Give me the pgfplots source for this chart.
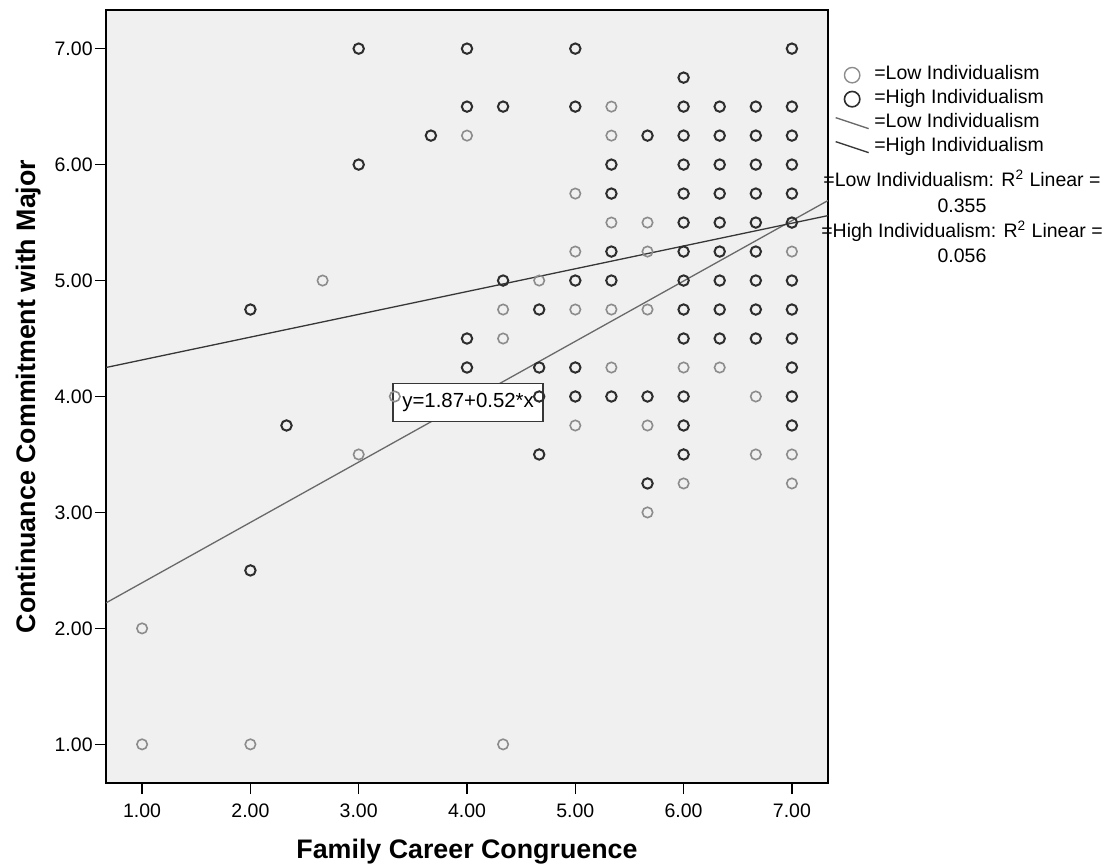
\documentclass[border=0pt]{standalone}
\usepackage{fontspec}
\setmainfont{Liberation Sans}
\usepackage{pgfplots}
\pgfplotsset{compat=1.18}
\definecolor{bgc}{RGB}{240,240,240}
\definecolor{lowc}{RGB}{140,140,140}
\definecolor{highc}{RGB}{45,45,45}
\definecolor{lowl}{RGB}{105,105,105}
\definecolor{highl}{RGB}{55,55,55}
\pgfplotsset{
  legmark/.style={legend image code/.code={\path (0pt,0pt) (19pt,0pt); \draw[##1, mark size=3.85pt, mark options={line width=#1}] plot coordinates {(8.25pt,0pt)};}},
  legline/.style={legend image code/.code={\path (0pt,0pt) (19pt,0pt); \draw[##1] (0pt,2.75pt) -- (16.5pt,-2.75pt);}},
}
\begin{document}
\begin{tikzpicture}
\path[use as bounding box] (0,0) rectangle (553.5pt,433.5pt);
\begin{axis}[
  at={(53pt,42pt)}, anchor=south west,
  scale only axis, width=361pt, height=386.5pt,
  xmin=0.6667, xmax=7.3333, ymin=0.6667, ymax=7.3333,
  axis background/.style={fill=bgc},
  axis line style={black, line width=0.75pt},
  xtick={1,2,3,4,5,6,7}, ytick={1,2,3,4,5,6,7},
  tick align=outside, major tick length=5.5pt,
  tick style={black, line width=0.75pt},
  xtick pos=left, ytick pos=left,
  minor tick num=0,
  /pgf/number format/fixed,
  /pgf/number format/fixed zerofill,
  /pgf/number format/precision=2,
  /pgf/number format/assume math mode=true,
  ticklabel style={font=\fontsize{9.75}{11}\selectfont, inner sep=0pt},
  yticklabel style={anchor=east, xshift=-1pt},
  xticklabel style={anchor=north, yshift=-4.5pt},
  every axis x label/.style={at={(axis description cs:0.5,-0.0983)}, anchor=base},
  every axis y label/.style={at={(axis description cs:-0.0983,0.5)}, rotate=90, anchor=base},
  label style={font=\fontsize{13.4}{15}\selectfont\bfseries},
  xlabel={Family Career Congruence},
  ylabel={Continuance Commitment with Major},
  legend style={at={(axis description cs:1.0097,0.9276)}, anchor=north west,
    draw=none, fill=none, inner sep=0pt, outer sep=0pt, row sep=2.8pt, column sep=0pt,
    font=\fontsize{9.75}{11}\selectfont,
    nodes={inner sep=0pt, text height=7pt, text depth=2.2pt}},
  legend cell align=left,
  clip=true,
]
\addplot[only marks, mark=o, color=lowc, mark size=2.6pt, mark options={line width=0.8pt}, legmark=0.7pt]
coordinates {
(1,2) (1,1) (2,1) (2.6667,5) (3,3.5) (3.3333,4) (4,6.25) (4.3333,4.75) (4.3333,4.5) (4.3333,1)
(4.6667,5) (5,5.75) (5,5.25) (5,4.75) (5,3.75)
(5.3333,6.5) (5.3333,6.25) (5.3333,5.5) (5.3333,4.75) (5.3333,4.25)
(5.6667,5.5) (5.6667,5.25) (5.6667,4.75) (5.6667,3.75) (5.6667,3)
(6,4.25) (6,3.25) (6.3333,4.25) (6.6667,4) (6.6667,3.5)
(7,5.25) (7,3.5) (7,3.25)
};
\addlegendentry{=Low Individualism}
\addplot[only marks, mark=o, color=highc, mark size=2.6pt, mark options={line width=1pt}, legmark=0.8pt]
coordinates {
(2,4.75) (2,2.5) (2.3333,3.75) (3,7) (3,6) (3.6667,6.25)
(4,7) (4,6.5) (4,4.5) (4,4.25)
(4.3333,6.5) (4.3333,5)
(4.6667,4.75) (4.6667,4.25) (4.6667,4) (4.6667,3.5)
(5,7) (5,6.5) (5,5) (5,4.25) (5,4)
(5.3333,6) (5.3333,5.75) (5.3333,5.25) (5.3333,5) (5.3333,4)
(5.6667,6.25) (5.6667,4) (5.6667,3.25)
(6,6.75) (6,6.5) (6,6.25) (6,6) (6,5.75) (6,5.5) (6,5.25) (6,5) (6,4.75) (6,4.5) (6,4) (6,3.75) (6,3.5)
(6.3333,6.5) (6.3333,6.25) (6.3333,6) (6.3333,5.75) (6.3333,5.5) (6.3333,5.25) (6.3333,5) (6.3333,4.75) (6.3333,4.5)
(6.6667,6.5) (6.6667,6.25) (6.6667,6) (6.6667,5.75) (6.6667,5.5) (6.6667,5.25) (6.6667,5) (6.6667,4.75) (6.6667,4.5)
(7,7) (7,6.5) (7,6.25) (7,6) (7,5.75) (7,5.5) (7,5) (7,4.75) (7,4.5) (7,4.25) (7,4) (7,3.75)
};
\addlegendentry{=High Individualism}
\addplot[color=lowl, line width=0.65pt, legline]
coordinates {(0.6667,2.22) (7.3333,5.69)};
\addlegendentry{=Low Individualism}
\addplot[color=highl, line width=0.65pt, legline]
coordinates {(0.6667,4.25) (7.3333,5.56)};
\addlegendentry{=High Individualism}
\node[draw=highl, line width=0.6pt, fill=white, minimum width=75pt, minimum height=19pt, inner sep=0pt,
  font=\fontsize{10.2}{12}\selectfont] at (axis cs:4.01,3.946) {y=1.87+0.52*x};
\end{axis}
\begin{scope}[font=\fontsize{9.75}{11}\selectfont]
\node[anchor=base, inner sep=0pt] at (481pt,340pt) {=Low Individualism: R\textsuperscript{2} Linear =};
\node[anchor=base, inner sep=0pt] at (481pt,327pt) {0.355};
\node[anchor=base, inner sep=0pt] at (481pt,314.5pt) {=High Individualism: R\textsuperscript{2} Linear =};
\node[anchor=base, inner sep=0pt] at (481pt,302pt) {0.056};
\end{scope}
\end{tikzpicture}
\end{document}
